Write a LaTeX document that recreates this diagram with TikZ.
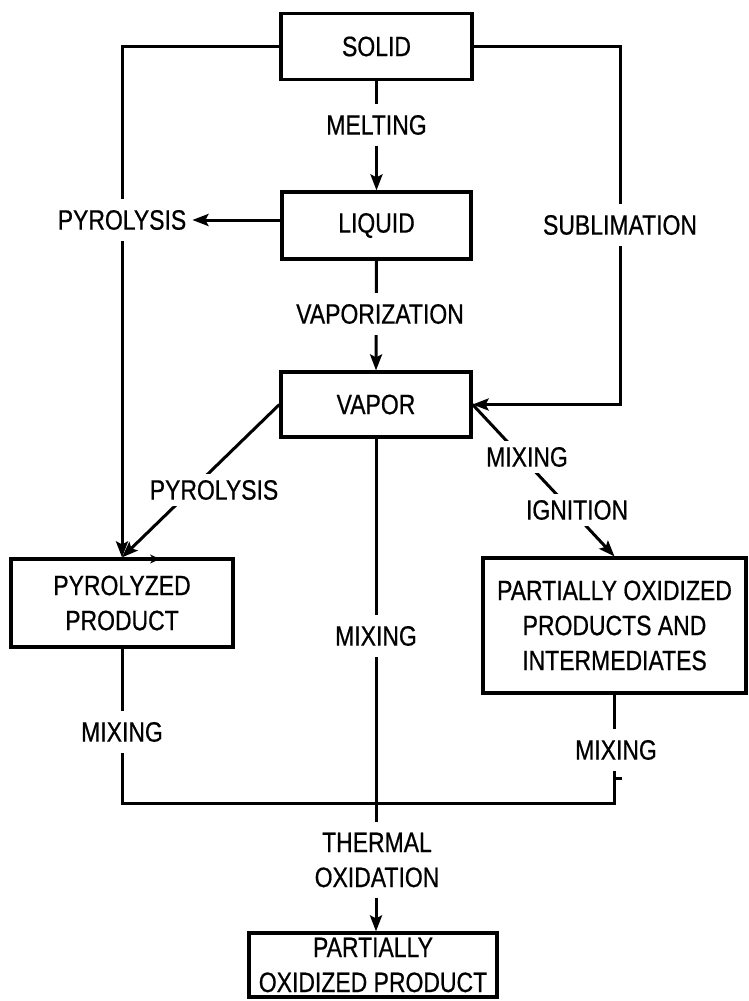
\documentclass[tikz,border=0pt]{standalone}
\usepackage{fontspec}
\setmainfont{Liberation Sans}[FakeStretch=0.82,FakeBold=0.6]
\usetikzlibrary{arrows.meta,backgrounds,calc}
\begin{document}
\begin{tikzpicture}[x=1pt,y=-1pt,
  txt/.style={align=center,font=\fontsize{28pt}{35pt}\selectfont},
  box/.style n args={2}{txt,draw,line width=3.2pt,minimum width=#1,minimum height=#2,inner sep=0pt},
  lbl/.style={txt,fill=white,inner xsep=6pt,inner ysep=11pt},
  dlbl/.style={lbl,inner ysep=6pt},
  conn/.style={line width=3pt},
  arr/.style={conn,-{Stealth[length=16pt,width=12pt,inset=3pt]}}
]
\useasboundingbox (0,0) rectangle (749,1001);

% boxes
\node[box={191pt}{66pt}] (solid) at (376.5,46.5) {SOLID};
\node[box={189pt}{67pt}] (liquid) at (376.5,225.5) {LIQUID};
\node[box={190pt}{65pt}] (vapor) at (376,404.5) {VAPOR};
\node[box={222pt}{88pt}] (pyro) at (122,603) {PYROLYZED\\PRODUCT};
\node[box={263pt}{135pt}] (pox) at (614.5,625.5) {PARTIALLY OXIDIZED\\PRODUCTS AND\\INTERMEDIATES};
\node[box={248pt}{64pt}] (final) at (373,965) {PARTIALLY\\OXIDIZED PRODUCT};

% labels
\node[lbl] (melt) at (376.5,125) {MELTING};
\node[lbl] (pyrl) at (122,220) {PYROLYSIS};
\node[lbl] (subl) at (620,225) {SUBLIMATION};
\node[lbl] (vapz) at (380,314) {VAPORIZATION};
\node[dlbl] (pyr2) at (214,490) {PYROLYSIS};
\node[dlbl] (mix1) at (527,457) {MIXING};
\node[dlbl] (ign) at (577,510) {IGNITION};
\node[lbl] (mixc) at (376,636) {MIXING};
\node[lbl] (mixl) at (122,732) {MIXING};
\node[lbl] (mixr) at (616,750) {MIXING};
\node[lbl] (therm) at (377,860) {THERMAL\\OXIDATION};

\coordinate (sc) at (620,404.5);
\coordinate (jn) at (376,803);

\begin{scope}[on background layer]
\fill[white] (0,0) rectangle (749,1001);
\draw[arr] (solid.west) -| (pyro.north);
\draw[arr] (pyrl.east -| liquid.west) -- (pyrl.east);
\draw[arr] (solid.east) -| (sc) -- (vapor.east);
\draw[arr] (solid.south) -- (liquid.north);
\draw[arr] (liquid.south) -- (vapor.north);
\draw[arr] (vapor.west) -- (pyro.north);
\draw[arr] (vapor.east) -- (pox.north);
\draw[arr] (vapor.south) -- (vapor.south |- final.north);
\draw[conn] (pyro.south) |- (jn) -| (pox.south);
\end{scope}
\draw[conn] (616,778) -- (622,778);
\draw[line width=1.5pt,-{Stealth[length=10pt,width=9pt]}] (146,559) -- (160,559);
\end{tikzpicture}
\end{document}
